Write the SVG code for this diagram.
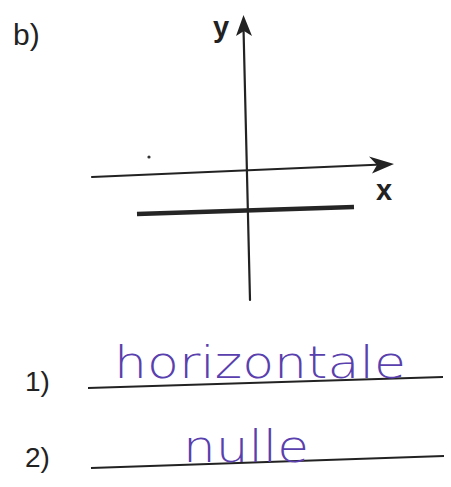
<svg xmlns="http://www.w3.org/2000/svg" width="451" height="487" viewBox="0 0 451 487">
<style>
.ax{stroke:#222;stroke-width:2.2;fill:none;stroke-linecap:round}
.head{fill:#222}
.lbl{font-family:"Liberation Sans",Arial,sans-serif;fill:#222}
.bold{font-weight:bold}
.hand{font-family:"DejaVu Sans","Liberation Sans",sans-serif;font-weight:200;fill:#5a3fae}
.ans{stroke:#222;stroke-width:2;fill:none}
</style>
<rect width="451" height="487" fill="#fff"/>
<text class="lbl" x="13" y="45" font-size="30">b)</text>
<g id="axes">
<line class="ax" x1="243.5" y1="28" x2="250" y2="300"/>
<path class="head" d="M243.5,15 L252,36 L244,31 L236,36 Z"/>
<line class="ax" x1="92" y1="177" x2="382" y2="164.5"/>
<path class="head" d="M394,164 L369,156.5 L377,165 L372,173.5 Z"/>
<text class="lbl bold" x="213" y="37" font-size="29">y</text>
<text class="lbl bold" x="376" y="200" font-size="29">x</text>
</g>
<g id="graph">
<line x1="137" y1="214" x2="354" y2="207" stroke="#252525" stroke-width="4.5"/>
<circle cx="149" cy="157" r="1.6" fill="#333"/>
</g>
<g id="answers">
<text class="lbl" x="25" y="391" font-size="28">1)</text>
<text class="lbl" x="25" y="467" font-size="28">2)</text>
<line class="ans" x1="88" y1="388" x2="443" y2="377"/>
<line class="ans" x1="91" y1="468" x2="444" y2="456"/>
<text class="hand" x="114" y="378" font-size="44" textLength="292" lengthAdjust="spacingAndGlyphs">horizontale</text>
<text class="hand" x="183" y="462" font-size="44" textLength="126" lengthAdjust="spacingAndGlyphs">nulle</text>
</g>
</svg>
